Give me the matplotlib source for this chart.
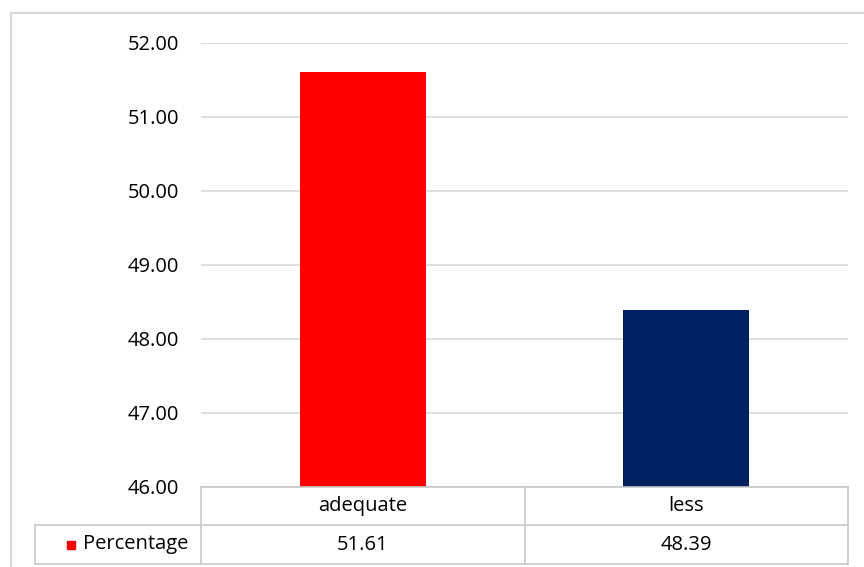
import matplotlib.pyplot as plt
from matplotlib.patches import Rectangle
from matplotlib.lines import Line2D

categories = ['adequate', 'less']
values = [51.61, 48.39]
colors = ['#ff0000', '#002060']
series_name = 'Percentage'
yticks = [46, 47, 48, 49, 50, 51, 52]

W, H = 864, 567
fig = plt.figure(figsize=(W / 100, H / 100), dpi=100)
plt.rcParams['font.family'] = ['Open Sans', 'DejaVu Sans']
fs = 14.5


def fx(px):
    return px / W


def fy(py):
    return 1 - py / H


# plot area
x0, x1, y0, y1 = 201, 848, 43, 487
ax = fig.add_axes([fx(x0), fy(y1), fx(x1) - fx(x0), fy(y0) - fy(y1)])
ax.bar(range(len(values)), [v - 46 for v in values], bottom=46, width=0.39, color=colors, zorder=3)
ax.set_xlim(-0.5, 1.5)
ax.set_ylim(46, 52)
ax.set_yticks(yticks)
ax.set_yticklabels([f'{t:.2f}' for t in yticks], fontsize=fs)
ax.tick_params(axis='y', length=0, pad=16)
ax.set_xticks([])
ax.grid(axis='y', color='#d9d9d9', linewidth=1.2, zorder=0)
for s in ax.spines.values():
    s.set_visible(False)

# outer chart border
grey = '#d9d9d9'
fig.add_artist(Line2D([fx(11), fx(11)], [fy(13), 0], color=grey, lw=1.5))
fig.add_artist(Line2D([fx(11), 1], [fy(13), fy(13)], color=grey, lw=1.5))

# data table
tc = '#c8c8c8'
lab_l = 35
col_edges = [x0, 525, x1]
r0, r1, r2 = 487, 525, 564
# horizontal lines
fig.add_artist(Line2D([fx(x0), fx(x1)], [fy(r0), fy(r0)], color=tc, lw=1.2))
fig.add_artist(Line2D([fx(lab_l), fx(x1)], [fy(r1), fy(r1)], color=tc, lw=1.2))
fig.add_artist(Line2D([fx(lab_l), fx(x1)], [fy(r2), fy(r2)], color=tc, lw=1.2))
# vertical lines
fig.add_artist(Line2D([fx(lab_l), fx(lab_l)], [fy(r1), fy(r2)], color=tc, lw=1.2))
for xe in col_edges:
    fig.add_artist(Line2D([fx(xe), fx(xe)], [fy(r0), fy(r2)], color=tc, lw=1.2))

for i, cat in enumerate(categories):
    cx = (col_edges[i] + col_edges[i + 1]) / 2
    fig.text(fx(cx), fy((r0 + r1) / 2), cat, ha='center', va='center', fontsize=fs)
    fig.text(fx(cx), fy((r1 + r2) / 2), f'{values[i]:.2f}', ha='center', va='center', fontsize=fs)

fig.add_artist(Rectangle((fx(67), fy(549)), fx(8), fy(541) - fy(549), color=colors[0]))
fig.text(fx(83), fy((r1 + r2) / 2), series_name, ha='left', va='center', fontsize=fs)

fig.savefig('out.png', dpi=100)
